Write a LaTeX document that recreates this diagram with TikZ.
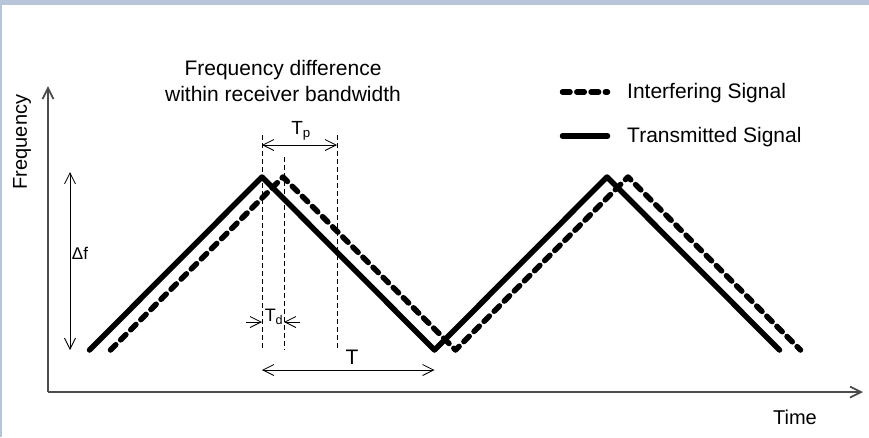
\documentclass[tikz,border=0pt]{standalone}
\usepackage{fontspec}
\setmainfont{Liberation Sans}
\usetikzlibrary{arrows.meta,positioning}
\definecolor{bandblue}{RGB}{184,196,216}

\begin{document}
\begin{tikzpicture}[x=1pt,y=-1pt,>={Straight Barb[length=11pt,width=11pt]}]
\tikzstyle{every node}=[font=\fontsize{21}{26}\selectfont, inner sep=0pt]
\tikzstyle{axis}=[->, line width=1.8pt, draw=black!70]
\tikzstyle{dim}=[<->, line width=0.8pt]
\tikzstyle{guide}=[line width=0.8pt, dash pattern=on 5pt off 3pt]
\tikzstyle{txsig}=[line width=5.5pt, line cap=round, line join=round]
\tikzstyle{intsig}=[txsig, dash pattern=on 7.5pt off 6.8pt]
\fill[bandblue] (0,0) rectangle (869,437);
\fill[white] (2,5) rectangle (869,437);
\useasboundingbox (0,0) rectangle (869,437);
\coordinate (o) at (48,392);
\coordinate (ytop) at (48,86);
\coordinate (xend) at (863,392);
\draw[axis] (o) -- (ytop);
\draw[axis] (o) -- (xend);
\node[rotate=90, font=\fontsize{20}{24}\selectfont] (freq) at (22,142) {Frequency};
\node[font=\fontsize{20}{24}\selectfont] (time) at (795,417) {Time};
\coordinate (dfa) at (70,172);
\coordinate (dfb) at (70,350);
\draw[dim] (dfa) -- (dfb);
\node[font=\fontsize{17}{20}\selectfont] (df) at (80,253) {Δf};
\coordinate (i0) at (110.5,350);
\coordinate (i1) at (283,177);
\coordinate (i2) at (455.5,350);
\coordinate (i3) at (628,177);
\coordinate (i4) at (800.5,350);
\draw[intsig] (i0) -- (i1) -- (i2) -- (i3) -- (i4);
\coordinate (t0) at (89.5,350);
\coordinate (t1) at (262,177);
\coordinate (t2) at (434.5,350);
\coordinate (t3) at (607,177);
\coordinate (t4) at (779.5,350);
\draw[txsig] (t0) -- (t1) -- (t2) -- (t3) -- (t4);
\coordinate (g1a) at (262,135);
\coordinate (g1b) at (262,350);
\coordinate (g2a) at (284,157);
\coordinate (g2b) at (284,350);
\coordinate (g3a) at (337,135);
\coordinate (g3b) at (337,350);
\draw[guide] (g1a) -- (g1b);
\draw[guide] (g2a) -- (g2b);
\draw[guide] (g3a) -- (g3b);
\coordinate (tpa) at (262,145);
\coordinate (tpb) at (337,145);
\draw[dim] (tpa) -- (tpb);
\node[font=\fontsize{19}{22}\selectfont] (tp) at (301,131) {T\textsubscript{p}};
\coordinate (tda) at (246,322);
\coordinate (tdb) at (262,322);
\coordinate (tdc) at (300,322);
\coordinate (tdd) at (284,322);
\draw[->, line width=0.8pt] (tda) -- (tdb);
\draw[->, line width=0.8pt] (tdc) -- (tdd);
\node[font=\fontsize{18}{20}\selectfont] (td) at (274,317) {T\textsubscript{d}};
\coordinate (ta) at (262,370);
\coordinate (tb) at (434.5,370);
\draw[dim] (ta) -- (tb);
\node (tper) at (352,357) {T};
\node[align=center] (title) at (283,81) {Frequency difference\\within receiver bandwidth};
\coordinate (lia) at (562.5,92);
\coordinate (lib) at (607.5,92);
\draw[intsig] (lia) -- (lib);
\node[anchor=west] (lgint) at (627,93) {Interfering Signal};
\coordinate (lta) at (562.5,136);
\coordinate (ltb) at (607.5,136);
\draw[txsig] (lta) -- (ltb);
\node[anchor=west] (lgtx) at (627,137) {Transmitted Signal};
\end{tikzpicture}
\end{document}
